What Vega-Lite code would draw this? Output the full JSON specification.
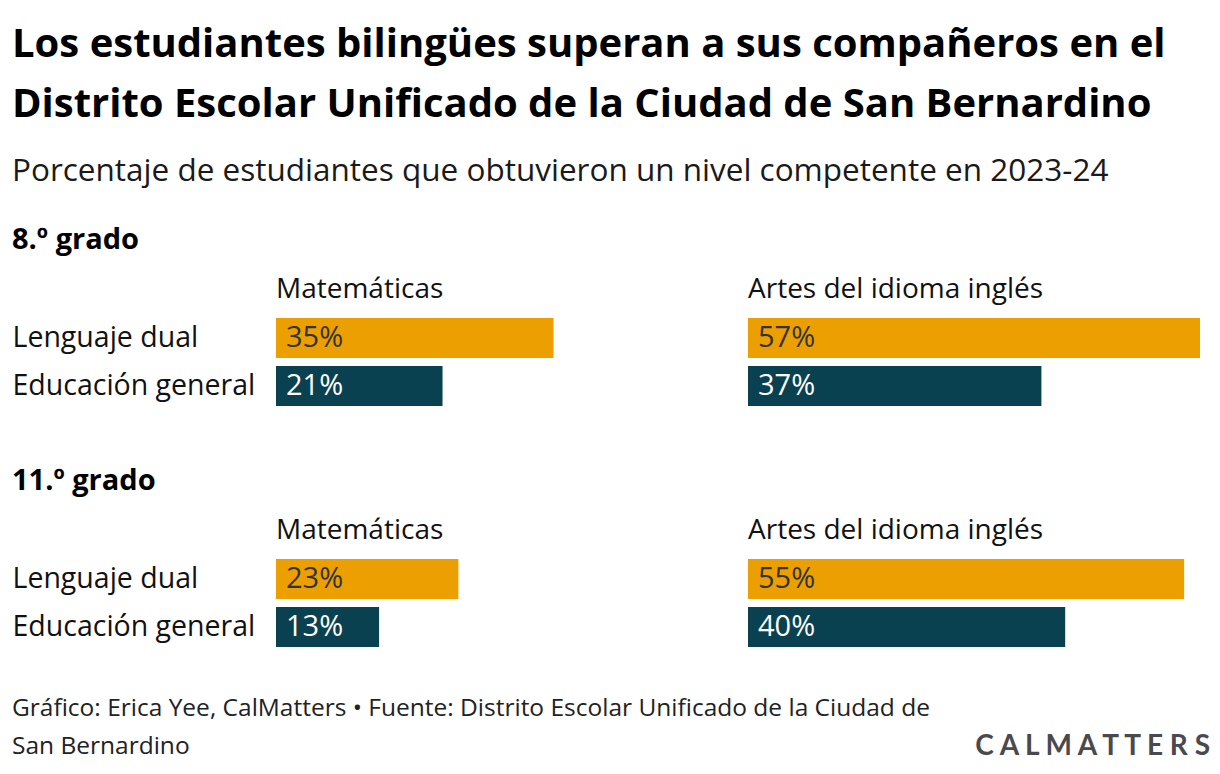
{
  "$schema": "https://vega.github.io/schema/vega-lite/v6.json",
  "background": "white",
  "padding": {"left": 12, "top": 24, "right": 10, "bottom": 10},
  "config": {
    "font": "Open Sans",
    "view": {"stroke": null},
    "axis": {"domain": false, "ticks": false, "grid": false}
  },
  "datasets": {
    "scores": [
      {"grade": "8", "subject": "Matemáticas", "group": "Lenguaje dual", "value": 0.35},
      {"grade": "8", "subject": "Matemáticas", "group": "Educación general", "value": 0.21},
      {"grade": "8", "subject": "Artes del idioma inglés", "group": "Lenguaje dual", "value": 0.57},
      {"grade": "8", "subject": "Artes del idioma inglés", "group": "Educación general", "value": 0.37},
      {"grade": "11", "subject": "Matemáticas", "group": "Lenguaje dual", "value": 0.23},
      {"grade": "11", "subject": "Matemáticas", "group": "Educación general", "value": 0.13},
      {"grade": "11", "subject": "Artes del idioma inglés", "group": "Lenguaje dual", "value": 0.55},
      {"grade": "11", "subject": "Artes del idioma inglés", "group": "Educación general", "value": 0.40}
    ]
  },
  "title": {
    "text": ["Los estudiantes bilingües superan a sus compañeros en el", "Distrito Escolar Unificado de la Ciudad de San Bernardino"],
    "subtitle": "Porcentaje de estudiantes que obtuvieron un nivel competente en 2023-24",
    "anchor": "start",
    "font": "Open Sans",
    "fontSize": 40,
    "fontWeight": "bold",
    "lineHeight": 60,
    "color": "#000000",
    "subtitleFont": "Open Sans",
    "subtitleFontSize": 31.5,
    "subtitleColor": "#1a1a1a",
    "subtitlePadding": 31,
    "offset": 39
  },
  "vconcat": [
    {
      "title": {
        "text": "C A L   M A T T E R S",
        "orient": "bottom",
        "anchor": "end",
        "font": "Lato",
        "fontSize": 28,
        "fontWeight": "bold",
        "color": "#4a4a4d",
        "dx": 10,
        "offset": -26
      },
      "vconcat": [
        {
          "title": {
            "text": ["Gráfico: Erica Yee, CalMatters • Fuente: Distrito Escolar Unificado de la Ciudad de", "San Bernardino"],
            "orient": "bottom",
            "anchor": "start",
            "font": "Open Sans",
            "fontSize": 24.5,
            "fontWeight": "normal",
            "lineHeight": 38,
            "color": "#222222",
            "offset": 50
          },
          "spacing": 61,
          "vconcat": [
            {
              "title": {"text": "8.º grado", "anchor": "start", "font": "Open Sans", "fontSize": 29, "fontWeight": "bold", "color": "#000000", "offset": 21},
              "spacing": 20,
              "hconcat": [
                {
                  "title": {"text": "Matemáticas", "anchor": "start", "frame": "group", "font": "Open Sans", "fontSize": 28, "fontWeight": "normal", "color": "#111111", "offset": 14},
                  "width": 452,
                  "height": 88,
                  "data": {"name": "scores"},
                  "transform": [{"filter": "datum.grade == '8' && datum.subject == 'Matemáticas'"}],
                  "encoding": {
                    "y": {
                      "field": "group", "type": "nominal", "sort": ["Lenguaje dual", "Educación general"],
                      "scale": {"paddingInner": 0.1667, "paddingOuter": 0},
                      "axis": {"title": null, "labelAlign": "left", "labelPadding": 264, "labelFontSize": 28.5, "labelColor": "#111111", "labelFont": "Open Sans", "labelLimit": 400}
                    }
                  },
                  "layer": [
                    {
                      "mark": {"type": "bar"},
                      "encoding": {
                        "x": {"field": "value", "type": "quantitative", "scale": {"domain": [0, 0.57], "nice": false}, "axis": null},
                        "color": {"condition": {"test": "datum.group == 'Lenguaje dual'", "value": "#EC9F00"}, "value": "#0A4150"}
                      }
                    },
                    {
                      "mark": {"type": "text", "align": "left", "baseline": "middle", "dx": 10, "fontSize": 29, "font": "Open Sans"},
                      "encoding": {
                        "x": {"datum": 0, "type": "quantitative"},
                        "text": {"field": "value", "type": "quantitative", "format": ".0%"},
                        "color": {"condition": {"test": "datum.group == 'Lenguaje dual'", "value": "#333333"}, "value": "#ffffff"}
                      }
                    }
                  ]
                },
                {
                  "title": {"text": "Artes del idioma inglés", "anchor": "start", "frame": "group", "font": "Open Sans", "fontSize": 28, "fontWeight": "normal", "color": "#111111", "offset": 14},
                  "width": 452,
                  "height": 88,
                  "data": {"name": "scores"},
                  "transform": [{"filter": "datum.grade == '8' && datum.subject == 'Artes del idioma inglés'"}],
                  "encoding": {
                    "y": {
                      "field": "group", "type": "nominal", "sort": ["Lenguaje dual", "Educación general"],
                      "scale": {"paddingInner": 0.1667, "paddingOuter": 0},
                      "axis": null
                    }
                  },
                  "layer": [
                    {
                      "mark": {"type": "bar"},
                      "encoding": {
                        "x": {"field": "value", "type": "quantitative", "scale": {"domain": [0, 0.57], "nice": false}, "axis": null},
                        "color": {"condition": {"test": "datum.group == 'Lenguaje dual'", "value": "#EC9F00"}, "value": "#0A4150"}
                      }
                    },
                    {
                      "mark": {"type": "text", "align": "left", "baseline": "middle", "dx": 10, "fontSize": 29, "font": "Open Sans"},
                      "encoding": {
                        "x": {"datum": 0, "type": "quantitative"},
                        "text": {"field": "value", "type": "quantitative", "format": ".0%"},
                        "color": {"condition": {"test": "datum.group == 'Lenguaje dual'", "value": "#333333"}, "value": "#ffffff"}
                      }
                    }
                  ]
                }
              ]
            },
            {
              "title": {"text": "11.º grado", "anchor": "start", "font": "Open Sans", "fontSize": 29, "fontWeight": "bold", "color": "#000000", "offset": 21},
              "spacing": 20,
              "hconcat": [
                {
                  "title": {"text": "Matemáticas", "anchor": "start", "frame": "group", "font": "Open Sans", "fontSize": 28, "fontWeight": "normal", "color": "#111111", "offset": 14},
                  "width": 452,
                  "height": 88,
                  "data": {"name": "scores"},
                  "transform": [{"filter": "datum.grade == '11' && datum.subject == 'Matemáticas'"}],
                  "encoding": {
                    "y": {
                      "field": "group", "type": "nominal", "sort": ["Lenguaje dual", "Educación general"],
                      "scale": {"paddingInner": 0.1667, "paddingOuter": 0},
                      "axis": {"title": null, "labelAlign": "left", "labelPadding": 264, "labelFontSize": 28.5, "labelColor": "#111111", "labelFont": "Open Sans", "labelLimit": 400}
                    }
                  },
                  "layer": [
                    {
                      "mark": {"type": "bar"},
                      "encoding": {
                        "x": {"field": "value", "type": "quantitative", "scale": {"domain": [0, 0.57], "nice": false}, "axis": null},
                        "color": {"condition": {"test": "datum.group == 'Lenguaje dual'", "value": "#EC9F00"}, "value": "#0A4150"}
                      }
                    },
                    {
                      "mark": {"type": "text", "align": "left", "baseline": "middle", "dx": 10, "fontSize": 29, "font": "Open Sans"},
                      "encoding": {
                        "x": {"datum": 0, "type": "quantitative"},
                        "text": {"field": "value", "type": "quantitative", "format": ".0%"},
                        "color": {"condition": {"test": "datum.group == 'Lenguaje dual'", "value": "#333333"}, "value": "#ffffff"}
                      }
                    }
                  ]
                },
                {
                  "title": {"text": "Artes del idioma inglés", "anchor": "start", "frame": "group", "font": "Open Sans", "fontSize": 28, "fontWeight": "normal", "color": "#111111", "offset": 14},
                  "width": 452,
                  "height": 88,
                  "data": {"name": "scores"},
                  "transform": [{"filter": "datum.grade == '11' && datum.subject == 'Artes del idioma inglés'"}],
                  "encoding": {
                    "y": {
                      "field": "group", "type": "nominal", "sort": ["Lenguaje dual", "Educación general"],
                      "scale": {"paddingInner": 0.1667, "paddingOuter": 0},
                      "axis": null
                    }
                  },
                  "layer": [
                    {
                      "mark": {"type": "bar"},
                      "encoding": {
                        "x": {"field": "value", "type": "quantitative", "scale": {"domain": [0, 0.57], "nice": false}, "axis": null},
                        "color": {"condition": {"test": "datum.group == 'Lenguaje dual'", "value": "#EC9F00"}, "value": "#0A4150"}
                      }
                    },
                    {
                      "mark": {"type": "text", "align": "left", "baseline": "middle", "dx": 10, "fontSize": 29, "font": "Open Sans"},
                      "encoding": {
                        "x": {"datum": 0, "type": "quantitative"},
                        "text": {"field": "value", "type": "quantitative", "format": ".0%"},
                        "color": {"condition": {"test": "datum.group == 'Lenguaje dual'", "value": "#333333"}, "value": "#ffffff"}
                      }
                    }
                  ]
                }
              ]
            }
          ]
        }
      ]
    }
  ]
}
